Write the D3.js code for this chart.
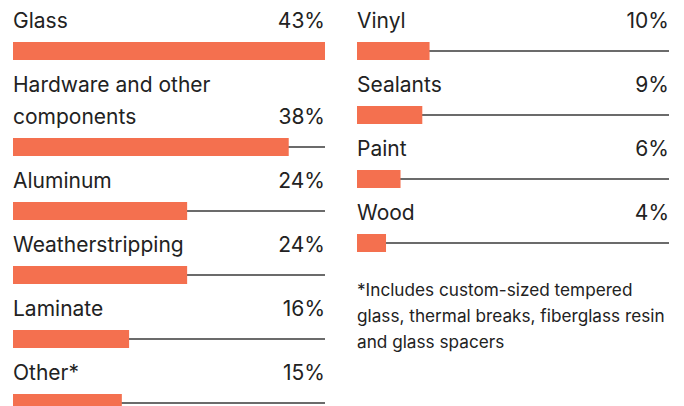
<!DOCTYPE html>
<html>
<head>
<meta charset="utf-8">
<script src="https://cdn.jsdelivr.net/npm/d3@7"></script>
<style>
  html, body { margin: 0; padding: 0; background: #fff; }
  svg { display: block; }
  text { font-family: Inter, "Noto Sans", sans-serif; fill: #222; }
</style>
</head>
<body>
<svg id="chart" width="684" height="406"></svg>
<script>
// Share of materials, in percent
const categories = [
  "Glass", "Hardware and other components", "Aluminum", "Weatherstripping",
  "Laminate", "Other*", "Vinyl", "Sealants", "Paint", "Wood"
];
const values = [43, 38, 24, 24, 16, 15, 10, 9, 6, 4];
const valueLabels = ["43%", "38%", "24%", "24%", "16%", "15%", "10%", "9%", "6%", "4%"];
const columnOf = [0, 0, 0, 0, 0, 0, 1, 1, 1, 1];
const footnoteLines = [
  "*Includes custom-sized tempered",
  "glass, thermal breaks, fiberglass resin",
  "and glass spacers"
];

const svg = d3.select("#chart");
const colX = [13, 357];
const colW = 312;
const barH = 18;
const lineGap = 32;
const labelSize = 21;

const x = d3.scaleLinear().domain([0, d3.max(values)]).range([0, colW]);

// wraps a label into lines that fit beside the value text
function wrapLines(text, maxW) {
  const probe = svg.append("text").style("font-size", labelSize + "px");
  const words = text.split(" ");
  const lines = [];
  let cur = "";
  words.forEach(w => {
    const t = cur ? cur + " " + w : w;
    probe.text(t);
    if (probe.node().getComputedTextLength() > maxW && cur) {
      lines.push(cur);
      cur = w;
    } else cur = t;
  });
  lines.push(cur);
  probe.remove();
  return lines;
}

const tops = [0, 0];
categories.forEach((cat, i) => {
  const c = columnOf[i];
  const x0 = colX[c];
  const lines = wrapLines(cat, 235);
  const g = svg.append("g");
  const base = tops[c] + 28;
  const label = g.append("text")
    .attr("x", x0)
    .style("font-size", labelSize + "px");
  lines.forEach((ln, k) => {
    label.append("tspan").attr("x", x0).attr("y", base + k * lineGap).text(ln);
  });
  const lastBase = base + (lines.length - 1) * lineGap;
  g.append("text")
    .attr("x", x0 + colW)
    .attr("y", lastBase)
    .attr("text-anchor", "end")
    .style("font-size", labelSize + "px")
    .text(valueLabels[i]);
  const cy = lastBase + 23;
  g.append("line")
    .attr("x1", x0).attr("x2", x0 + colW)
    .attr("y1", cy).attr("y2", cy)
    .attr("stroke", "#3a3a3a").attr("stroke-width", 1.3);
  g.append("rect")
    .attr("x", x0).attr("y", cy - barH / 2)
    .attr("width", x(values[i])).attr("height", barH)
    .attr("fill", "#F4704F");
  tops[c] = cy + 13;
});

// footnote under the right column
svg.append("text")
  .attr("x", colX[1])
  .style("font-size", "17.2px")
  .selectAll("tspan")
  .data(footnoteLines)
  .join("tspan")
  .attr("x", colX[1])
  .attr("y", (d, i) => 296 + i * 26)
  .text(d => d);
</script>
</body>
</html>
